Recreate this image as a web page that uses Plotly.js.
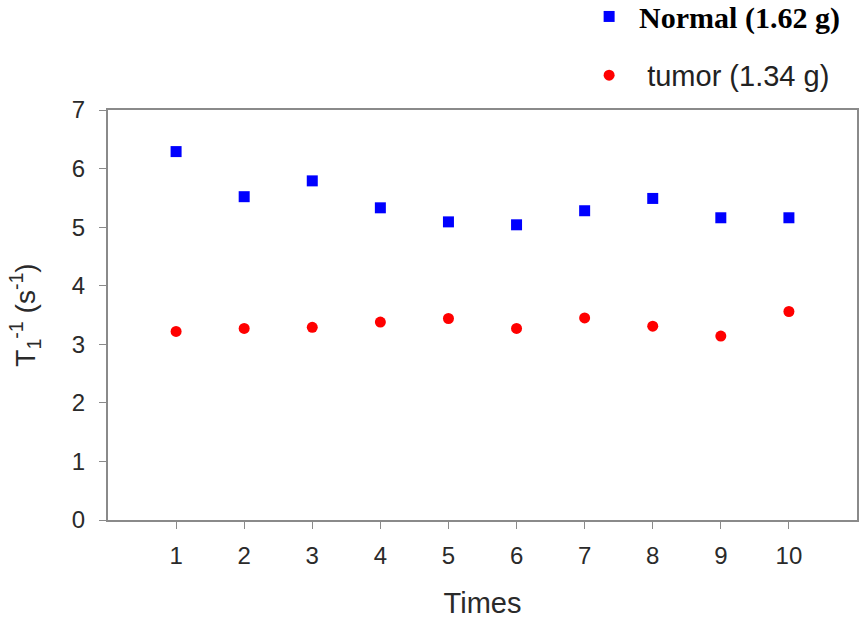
<!DOCTYPE html>
<html>
<head>
<meta charset="utf-8">
<script src="https://cdn.plot.ly/plotly-3.0.1.min.js"></script>
<style>html,body{margin:0;padding:0;background:#fff;}#chart{width:860px;height:619px;}</style>
</head>
<body>
<div id="chart"></div>
<script>
const times = [1, 2, 3, 4, 5, 6, 7, 8, 9, 10];
const normalValues = [6.29, 5.52, 5.79, 5.33, 5.09, 5.04, 5.28, 5.49, 5.16, 5.16];
const tumorValues = [3.22, 3.27, 3.29, 3.38, 3.44, 3.27, 3.45, 3.31, 3.14, 3.56];
const normalName = '<span style="font-family:Liberation Serif;font-weight:bold;font-size:30px;color:#000">Normal (1.62 g)</span>';
const tumorName = ' tumor (1.34 g)';
const xTickVals = [1, 2, 3, 4, 5, 6, 7, 8, 9, 10];
const yTickVals = [0, 1, 2, 3, 4, 5, 6, 7];

const traces = [
  {
    x: times, y: normalValues, name: normalName, type: 'scatter', mode: 'markers',
    marker: {symbol: 'square', size: 11, color: '#0000ff'},
    legendgroup: 'a'
  },
  {
    x: times, y: tumorValues, name: tumorName, type: 'scatter', mode: 'markers',
    marker: {symbol: 'circle', size: 11, color: '#ff0000'},
    legendgroup: 'b'
  }
];

const axisFont = {family: 'Liberation Sans, Arial, sans-serif', size: 24, color: '#2a2a2a'};
const layout = {
  width: 860, height: 619,
  paper_bgcolor: '#ffffff', plot_bgcolor: '#ffffff',
  margin: {l: 108, r: 3, t: 110, b: 99, autoexpand: false},
  showlegend: true,
  legend: {
    x: 0.629, xanchor: 'left', y: 1.29, yanchor: 'top',
    font: {family: 'Liberation Sans, Arial, sans-serif', size: 29, color: '#222'},
    traceorder: 'grouped', tracegroupgap: 18,
    itemwidth: 50,
    bgcolor: 'rgba(0,0,0,0)'
  },
  xaxis: {
    range: [0, 11], tickvals: xTickVals, ticktext: xTickVals.map(String),
    showgrid: false, zeroline: false,
    showline: true, linecolor: '#8a8a8a', linewidth: 2, mirror: true,
    ticks: 'outside', ticklen: 7, tickcolor: '#8a8a8a', tickwidth: 1,
    ticklabelstandoff: 6,
    tickfont: axisFont,
    title: {text: 'Times', font: {family: 'Liberation Sans, Arial, sans-serif', size: 29, color: '#2a2a2a'}, standoff: 26}
  },
  yaxis: {
    range: [0, 7], tickvals: yTickVals, ticktext: yTickVals.map(String),
    showgrid: false, zeroline: false,
    showline: true, linecolor: '#8a8a8a', linewidth: 2, mirror: true,
    ticks: 'outside', ticklen: 7, tickcolor: '#8a8a8a', tickwidth: 1,
    ticklabelstandoff: 9,
    tickfont: axisFont,
    title: {text: 'T<sub>1</sub><sup>-1</sup> (s<sup>-1</sup>)', font: {family: 'Liberation Sans, Arial, sans-serif', size: 28, color: '#2a2a2a'}, standoff: 28}
  }
};

Plotly.newPlot('chart', traces, layout, {staticPlot: true, displayModeBar: false});
</script>
</body>
</html>
